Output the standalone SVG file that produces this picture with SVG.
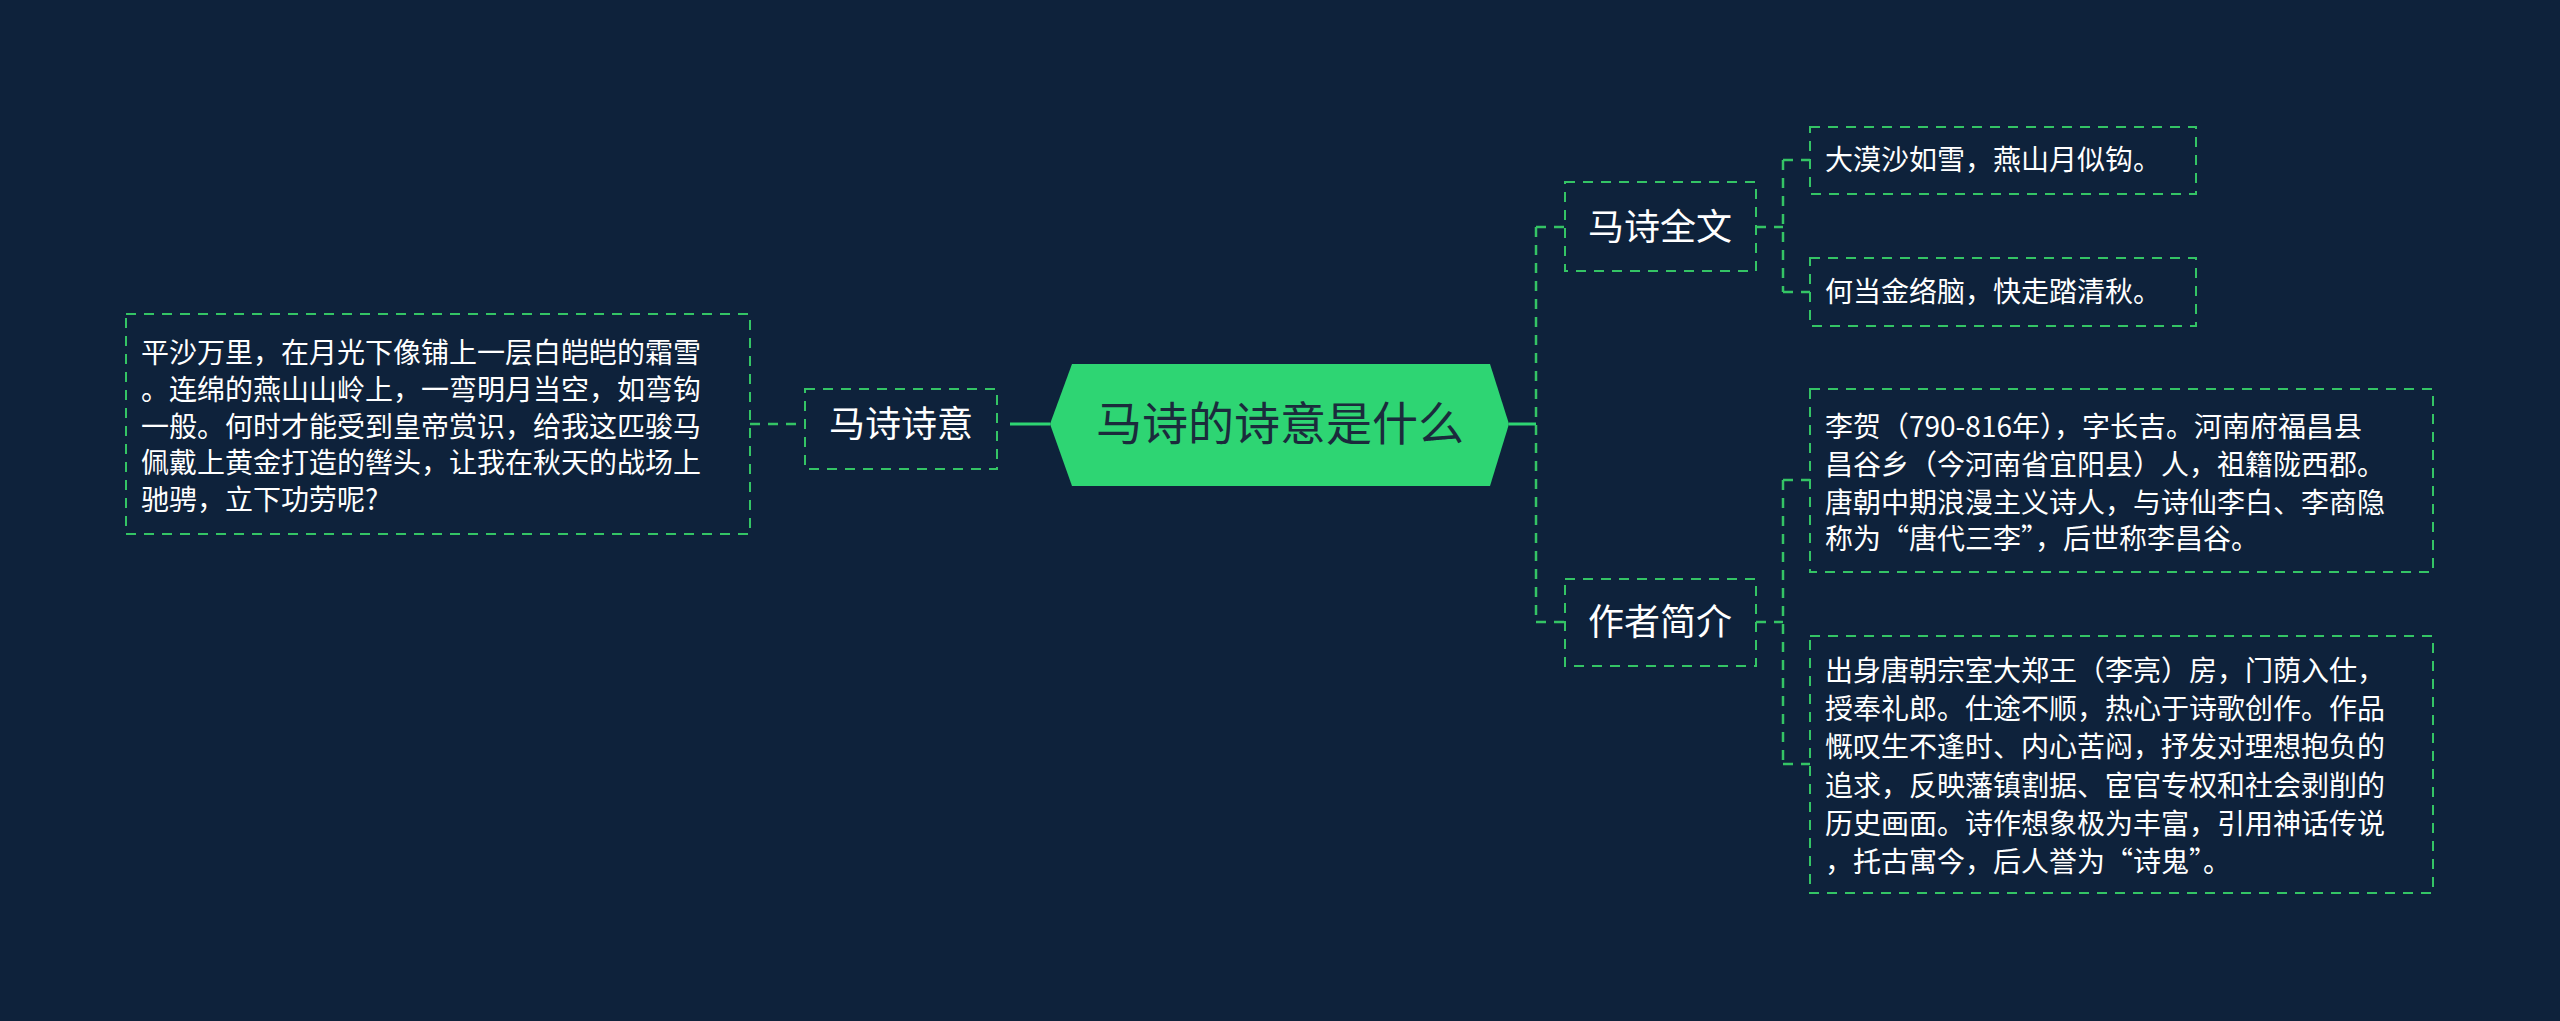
<svg xmlns="http://www.w3.org/2000/svg" width="2560" height="1021" viewBox="0 0 2560 1021">
<style>
.bx{fill:none;stroke:#34c465;stroke-width:2;stroke-dasharray:10 8}
.cn{fill:none;stroke:#34c465;stroke-width:2.5;stroke-dasharray:10 8}
.sl{fill:none;stroke:#2ed573;stroke-width:3}
.t{font-family:"Noto Sans CJK SC","Noto Sans",sans-serif;fill:#ffffff}
.m{font-size:36px}
.s{font-size:28px}
</style>
<rect width="2560" height="1021" fill="#0e223b"/>
<g id="connectors">
<path class="sl" d="M1509 424H1536"/>
<path class="cn" d="M1536 227V622M1536 227H1565M1536 622H1565"/>
<path class="cn" d="M1756 227H1783M1783 160V292M1783 160H1810M1783 292H1810"/>
<path class="cn" d="M1756 622H1783M1783 480V764M1783 480H1810M1783 764H1810"/>
<path class="sl" d="M1010 424H1050"/>
<path class="cn" d="M750 424H805"/>
</g>
<g id="root">
<polygon points="1050,424 1072,364 1490,364 1509,424 1490,486 1072,486" fill="#2ed573"/>
<text class="t" x="1280" y="440" font-size="46" text-anchor="middle" fill="#1b2b3c" style="fill:#1b2b3c">马诗的诗意是什么</text>
</g>
<g id="n-quanwen">
<rect class="bx" x="1565" y="182" width="191" height="89"/>
<text class="t m" x="1660" y="240" text-anchor="middle">马诗全文</text>
</g>
<g id="n-jianjie">
<rect class="bx" x="1565" y="579" width="191" height="87"/>
<text class="t m" x="1660" y="635" text-anchor="middle">作者简介</text>
</g>
<g id="n-shiyi">
<rect class="bx" x="805" y="389" width="192" height="80"/>
<text class="t m" x="901" y="437" text-anchor="middle">马诗诗意</text>
</g>
<g id="leaf1">
<rect class="bx" x="1810" y="127" width="386" height="67"/>
<text class="t s" x="1825" y="170">大漠沙如雪，燕山月似钩。</text>
</g>
<g id="leaf2">
<rect class="bx" x="1810" y="258" width="386" height="68"/>
<text class="t s" x="1825" y="302">何当金络脑，快走踏清秋。</text>
</g>
<g id="leaf3">
<rect class="bx" x="1810" y="389" width="623" height="183"/>
<text class="t s"><tspan x="1825" y="437">李贺（790-816年），字长吉。河南府福昌县</tspan><tspan x="1825" y="475">昌谷乡（今河南省宜阳县）人，祖籍陇西郡。</tspan><tspan x="1825" y="513">唐朝中期浪漫主义诗人，与诗仙李白、李商隐</tspan><tspan x="1825" y="549">称为“唐代三李”，后世称李昌谷。</tspan></text>
</g>
<g id="leaf4">
<rect class="bx" x="1810" y="636" width="623" height="257"/>
<text class="t s"><tspan x="1825" y="681">出身唐朝宗室大郑王（李亮）房，门荫入仕，</tspan><tspan x="1825" y="719">授奉礼郎。仕途不顺，热心于诗歌创作。作品</tspan><tspan x="1825" y="757">慨叹生不逢时、内心苦闷，抒发对理想抱负的</tspan><tspan x="1825" y="796">追求，反映藩镇割据、宦官专权和社会剥削的</tspan><tspan x="1825" y="834">历史画面。诗作想象极为丰富，引用神话传说</tspan><tspan x="1825" y="872">，托古寓今，后人誉为“诗鬼”。</tspan></text>
</g>
<g id="leaf-left">
<rect class="bx" x="126" y="314" width="624" height="220"/>
<text class="t s"><tspan x="141" y="363">平沙万里，在月光下像铺上一层白皑皑的霜雪</tspan><tspan x="141" y="400">。连绵的燕山山岭上，一弯明月当空，如弯钩</tspan><tspan x="141" y="437">一般。何时才能受到皇帝赏识，给我这匹骏马</tspan><tspan x="141" y="473">佩戴上黄金打造的辔头，让我在秋天的战场上</tspan><tspan x="141" y="510">驰骋，立下功劳呢?</tspan></text>
</g>
</svg>
